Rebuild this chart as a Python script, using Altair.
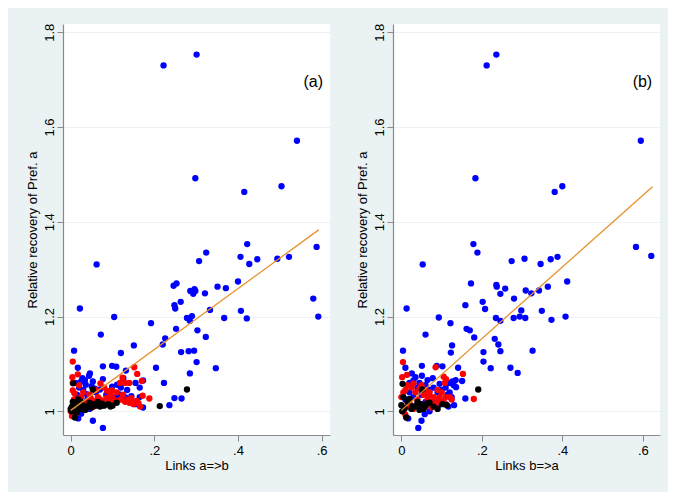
import altair as alt
import pandas as pd

# ---------------- data ----------------
# panel (a): x = Links a=>b, y = Relative recovery of Pref. a
a_blue = [(0.222,1.730),(0.301,1.753),(0.541,1.571),(0.298,1.492),(0.415,1.463),(0.504,1.475),(0.422,1.353),(0.588,1.347),
 (0.324,1.335),(0.307,1.317),(0.406,1.326),(0.427,1.311),(0.446,1.321),(0.494,1.322),(0.522,1.326),
 (0.246,1.265),(0.253,1.270),(0.248,1.224),(0.250,1.217),(0.263,1.231),(0.286,1.254),(0.296,1.258),(0.293,1.248),(0.298,1.254),
 (0.321,1.249),(0.351,1.263),(0.371,1.260),(0.400,1.274),(0.580,1.238),(0.592,1.200),(0.407,1.212),(0.421,1.196),(0.367,1.197),
 (0.333,1.214),(0.278,1.197),(0.290,1.201),(0.285,1.191),(0.252,1.174),(0.303,1.171),(0.226,1.154),(0.220,1.141),(0.323,1.157),
 (0.264,1.125),(0.282,1.127),(0.295,1.128),(0.301,1.104),(0.347,1.091),(0.285,1.080),(0.223,1.060),(0.248,1.028),(0.265,1.027),
 (0.236,1.013),(0.062,1.310),(0.022,1.217),(0.104,1.199),(0.072,1.162),(0.008,1.128),(0.017,1.092),(0.077,1.095),(0.099,1.096),
 (0.109,1.094),(0.120,1.123),(0.151,1.139),(0.192,1.186),(0.132,1.086),(0.204,1.092),(0.173,1.065),(0.173,1.008),(0.077,0.965),
 (0.053,0.980),(0.018,0.985),(0.046,1.080),(0.044,1.075),(0.025,1.063),(0.053,1.063),(0.050,1.053),(0.077,1.068),(0.099,1.052),
 (0.111,1.056),(0.126,1.070),(0.020,1.050),(0.030,1.045),(0.036,1.056),(0.060,1.040),(0.070,1.046),(0.085,1.035),(0.100,1.030),
 (0.115,1.036),(0.130,1.030),(0.140,1.020),(0.155,1.015),(0.165,1.030),(0.040,1.025),(0.050,1.020),(0.065,1.020),(0.090,1.015),
 (0.015,1.035),(0.010,1.020),(0.030,1.010),(0.020,1.000),(0.025,0.995),(0.045,1.005),(0.120,1.050),(0.135,1.045),(0.155,1.060),
 (0.165,1.050),(0.028,1.070),(0.034,1.066),(0.058,1.048),(0.092,1.042),(0.108,1.028),(0.145,1.032),(0.038,1.036),(0.012,1.060)]
a_red = [(0.005,1.105),(0.004,1.072),(0.017,1.078),(0.152,1.093),(0.159,1.079),(0.124,1.071),(0.130,1.060),(0.140,1.060),
 (0.170,1.064),(0.071,1.059),(0.087,1.043),(0.099,1.044),(0.172,1.033),(0.188,1.027),(0.166,1.010),(0.152,1.020),(0.005,1.044),
 (0.009,1.038),(0.162,1.017),(0.000,1.000),(0.010,1.005),(0.020,1.010),(0.030,1.015),(0.040,1.020),(0.050,1.018),(0.060,1.022),
 (0.070,1.025),(0.080,1.020),(0.090,1.025),(0.100,1.028),(0.110,1.022),(0.120,1.025),(0.130,1.020),(0.140,1.018),(0.150,1.015),
 (0.003,0.990),(0.012,0.995),(0.015,1.025),(0.025,1.030),(0.030,1.040),(0.045,1.035),(0.060,1.045),(0.065,1.030),(0.110,1.040),
 (0.118,1.060),(0.080,1.050),(0.005,1.060),(0.020,1.055),(0.100,1.015),(0.035,1.005),(0.055,1.010),(0.075,1.012),(0.095,1.035),
 (0.125,1.035),(0.145,1.028),(0.008,1.025),(0.018,1.018),(0.085,1.028),(0.105,1.020),(0.135,1.024),(0.158,1.022),(0.048,1.028)]
a_black = [(0.006,1.059),(0.053,1.046),(0.213,1.011),(0.278,1.046),(0.010,0.987),(0.000,1.005),(0.003,1.010),(0.008,1.000),
 (0.012,1.015),(0.020,1.008),(0.025,1.020),(0.030,1.012),(0.040,1.010),(0.050,1.008),(0.055,1.015),(0.060,1.012),(0.070,1.010),
 (0.080,1.012),(0.090,1.015),(0.100,1.012),(0.110,1.018),(0.035,1.003),(0.015,0.998),(0.045,1.018),(0.065,1.020),(0.005,1.020),
 (0.002,1.000),(0.018,1.025),(0.028,1.004),(0.075,1.016),(0.095,1.010)]
a_fit_x = [0.0, 0.593]
a_fit_y = [1.002, 1.383]

# panel (b): x = Links b=>a
b_blue = [(0.212,1.730),(0.236,1.753),(0.595,1.571),(0.184,1.492),(0.381,1.463),(0.400,1.475),(0.179,1.353),(0.583,1.347),
 (0.621,1.328),(0.371,1.321),(0.388,1.326),(0.189,1.335),(0.274,1.317),(0.306,1.322),(0.346,1.311),(0.053,1.310),(0.173,1.270),
 (0.412,1.274),(0.236,1.267),(0.237,1.263),(0.258,1.259),(0.246,1.248),(0.309,1.255),(0.323,1.249),(0.342,1.255),(0.364,1.263),
 (0.280,1.238),(0.202,1.231),(0.208,1.216),(0.159,1.224),(0.298,1.213),(0.349,1.212),(0.373,1.193),(0.408,1.200),(0.235,1.197),
 (0.246,1.191),(0.279,1.197),(0.294,1.200),(0.308,1.197),(0.013,1.217),(0.093,1.198),(0.122,1.186),(0.162,1.174),(0.170,1.171),
 (0.060,1.162),(0.181,1.156),(0.232,1.153),(0.241,1.141),(0.246,1.127),(0.204,1.125),(0.204,1.105),(0.126,1.139),(0.123,1.124),
 (0.004,1.128),(0.222,1.091),(0.271,1.092),(0.289,1.081),(0.326,1.128),(0.141,1.092),(0.102,1.095),(0.088,1.096),(0.051,1.096),
 (0.010,1.092),(0.026,1.080),(0.051,1.075),(0.151,1.064),(0.127,1.063),(0.135,1.066),(0.136,1.051),(0.159,1.027),(0.131,1.013),
 (0.117,1.010),(0.058,0.994),(0.050,0.980),(0.042,0.965),(0.017,0.985),(0.078,1.070),(0.020,1.060),(0.030,1.065),(0.040,1.050),
 (0.045,1.060),(0.060,1.055),(0.070,1.045),(0.080,1.050),(0.090,1.040),(0.100,1.045),(0.110,1.050),(0.120,1.040),(0.125,1.030),
 (0.130,1.055),(0.020,1.040),(0.030,1.030),(0.050,1.035),(0.060,1.020),(0.080,1.025),(0.100,1.020),(0.110,1.015),(0.010,1.025),
 (0.015,1.010),(0.040,1.015),(0.070,1.000),(0.090,1.010),(0.120,1.060),(0.035,1.072),(0.065,1.066),(0.095,1.058),(0.115,1.035)]
b_red = [(0.004,1.104),(0.014,1.077),(0.002,1.072),(0.085,1.093),(0.153,1.079),(0.180,1.026),(0.030,1.059),(0.105,1.073),
 (0.111,1.068),(0.000,1.030),(0.010,1.045),(0.020,1.020),(0.025,1.050),(0.035,1.040),(0.040,1.025),(0.050,1.055),(0.055,1.035),
 (0.060,1.045),(0.065,1.025),(0.070,1.040),(0.075,1.020),(0.080,1.030),(0.090,1.025),(0.095,1.030),(0.100,1.040),(0.105,1.020),
 (0.110,1.030),(0.120,1.030),(0.125,1.025),(0.005,1.000),(0.010,0.993),(0.015,1.010),(0.030,1.005),(0.045,1.010),(0.060,1.010),
 (0.075,1.008),(0.085,1.015),(0.090,1.045),(0.108,1.060),(0.005,1.040),(0.015,1.055),(0.045,1.048),(0.068,1.034),(0.098,1.022)]
b_black = [(0.003,1.058),(0.191,1.046),(0.051,1.046),(0.012,0.987),(0.020,1.026),(0.000,1.013),(0.008,1.006),(0.028,1.011),
 (0.049,1.015),(0.065,1.017),(0.102,1.015),(0.113,1.013),(0.002,1.000),(0.015,1.020),(0.035,1.010),(0.040,1.020),(0.055,1.005),
 (0.060,1.012),(0.070,1.018),(0.080,1.010),(0.090,1.005),(0.005,1.030),(0.025,1.005),(0.045,1.003)]
b_fit_x = [0.0, 0.624]
b_fit_y = [1.002, 1.474]

panel_labels = ["(a)", "(b)"]
label_x = [0.580, 0.599]
label_y = [1.695, 1.695]
x_titles = ["Links a=>b", "Links b=>a"]
y_title = "Relative recovery of Pref. a"
x_ticks = [0, 0.2, 0.4, 0.6]
y_ticks = [1, 1.2, 1.4, 1.6, 1.8]

# ---------------- styling ----------------
BG = "#EAF2F3"
FONT = "Liberation Sans"
AXIS_GRAY = "#8a8a8a"
ORANGE = "#E6912C"
PT = 40


def panel(blue, red, black, fit_x, fit_y, lab, lx, ly, xdom, xtitle):
    xs = alt.Scale(domain=xdom, nice=False, zero=False)
    ys = alt.Scale(domain=[0.95, 1.8175], nice=False, zero=False)
    xenc = alt.X("x:Q", scale=xs, axis=alt.Axis(
        values=x_ticks, title=xtitle, grid=False,
        labelExpr="datum.value == 0 ? '0' : replace(format(datum.value, '.1f'), '0.', '.')",
        tickSize=6, labelPadding=3, titlePadding=2))
    yenc = alt.Y("y:Q", scale=ys, axis=alt.Axis(
        values=y_ticks, title=y_title, format=".1~f", grid=True, gridColor=BG, gridWidth=1.2,
        labelAngle=-90, labelAlign="center", labelBaseline="alphabetic",
        tickSize=6, labelPadding=4, titlePadding=4))

    def pts(data, color):
        df = pd.DataFrame(data, columns=["x", "y"])
        return alt.Chart(df).mark_circle(size=PT, color=color, opacity=1).encode(x=xenc, y=yenc)

    fit = alt.Chart(pd.DataFrame({"x": fit_x, "y": fit_y})).mark_line(
        color=ORANGE, strokeWidth=1.3).encode(x=xenc, y=yenc)
    txt = alt.Chart(pd.DataFrame({"x": [lx], "y": [ly], "t": [lab]})).mark_text(
        font=FONT, fontSize=16, align="center", baseline="middle", color="black").encode(
        x=xenc, y=yenc, text="t:N")
    return alt.layer(pts(blue, "#0000FF"), pts(red, "#FF0000"), pts(black, "#000000"), fit, txt).properties(
        width=267, height=411)


left = panel(a_blue, a_red, a_black, a_fit_x, a_fit_y, panel_labels[0], label_x[0], label_y[0],
             [-0.0184, 0.620], x_titles[0])
right = panel(b_blue, b_red, b_black, b_fit_x, b_fit_y, panel_labels[1], label_x[1], label_y[1],
              [-0.0208, 0.6427], x_titles[1])

chart = alt.hconcat(left, right, spacing=63, bounds="flush").properties(
    background=BG, padding={"left": 18, "top": 15, "right": 8, "bottom": 20}
).configure_view(stroke=None, fill="white").configure_axis(
    domainColor=AXIS_GRAY, tickColor=AXIS_GRAY, domainWidth=1.2, tickWidth=1,
    labelFont=FONT, titleFont=FONT, labelFontSize=13, titleFontSize=13,
    labelColor="black", titleColor="black", titleFontWeight="normal"
)

chart.save("out.html", embed_options={"renderer": "svg", "actions": False})
